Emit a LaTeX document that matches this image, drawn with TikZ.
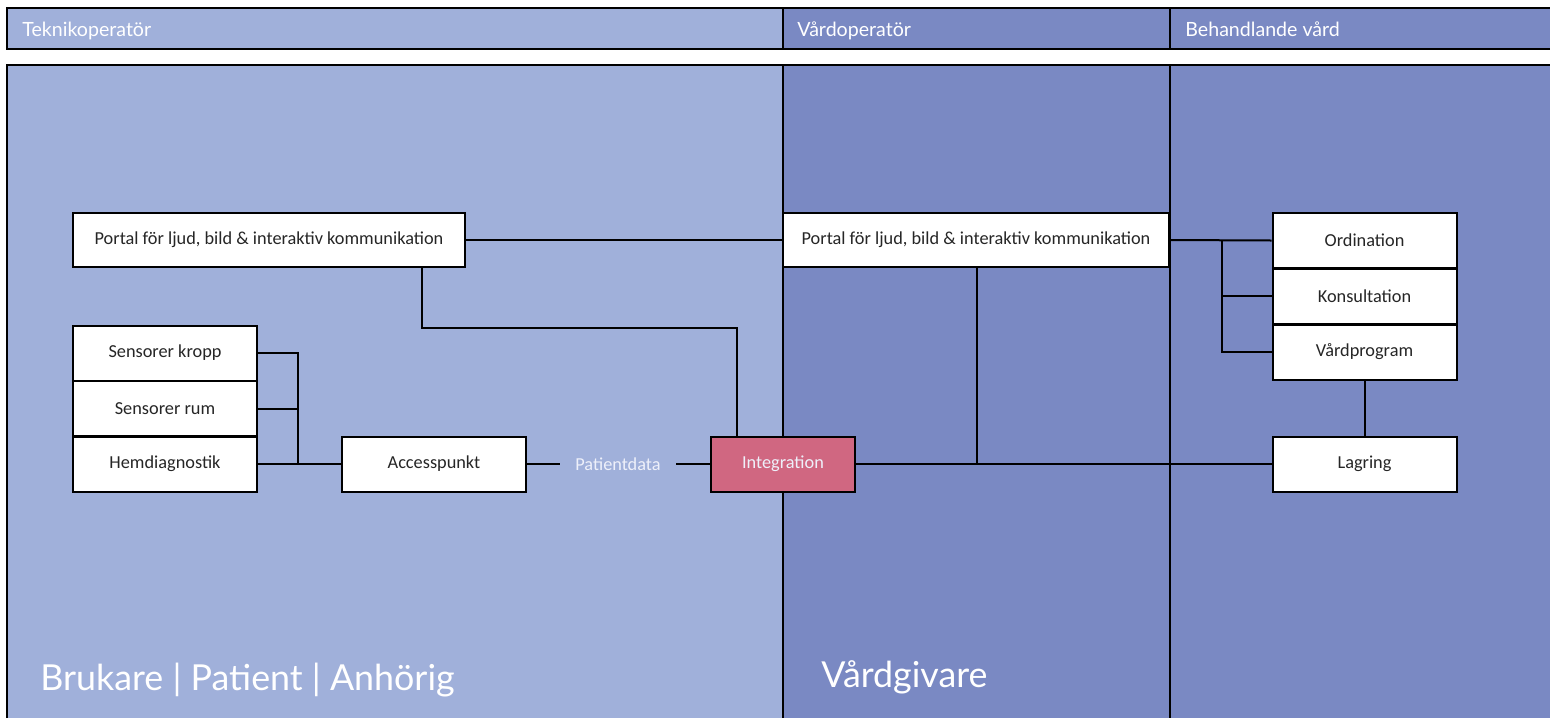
\documentclass[tikz,border=0pt]{standalone}
\usepackage{fontspec}
\setmainfont{Carlito}
\newfontfamily\latofont{Lato}
\usetikzlibrary{calc}

\definecolor{lightLane}{HTML}{A0B0DA}
\definecolor{darkLane}{HTML}{7A89C3}
\definecolor{integrationRed}{HTML}{D06781}
\definecolor{paleText}{HTML}{EEF0FA}

\begin{document}
\begin{tikzpicture}[x=0.5pt, y=-0.5pt,
            boxNode/.style={draw, fill=white, line width=1pt, inner sep=0pt,
                minimum width=92pt, minimum height=27.5pt, text=black!85,
                font=\fontsize{9.15}{11}\selectfont},
            headText/.style={anchor=base west, inner sep=0pt, text=white, font=\latofont\fontsize{9.8}{12}\selectfont},
            bigText/.style={anchor=base west, inner sep=0pt, text=white, font=\latofont\fontsize{17.9}{21}\selectfont},
            laneLine/.style={line width=1.2pt}]

            \useasboundingbox (0,0) rectangle (1550,718);

            % lanes
            \fill[lightLane] (7,8) rectangle (783,49);
            \fill[darkLane] (783,8) rectangle (1550,49);
            \fill[lightLane] (7,65) rectangle (783,718);
            \fill[darkLane] (783,65) rectangle (1550,718);
            \draw[laneLine] (1550,8) -- (7,8) -- (7,49) -- (1550,49);
            \draw[laneLine] (783,8) -- (783,49);
            \draw[laneLine] (1170,8) -- (1170,49);
            \draw[laneLine] (7,718) -- (7,65) -- (1550,65);
            \draw[laneLine] (783,65) -- (783,718);
            \draw[laneLine] (1170,65) -- (1170,718);

            \node[headText] (teknikHead) at (22,36) {Teknikoperatör};
            \node[headText] (vardHead) at (797,36) {Vårdoperatör};
            \node[headText] (behandlandeHead) at (1185,36) {Behandlande vård};
            \node[bigText] (brukareText) at (40,690) {Brukare | Patient | Anhörig};
            \node[bigText] (vardgivareText) at (821,687) {Vårdgivare};

            % boxes
            \node[boxNode, minimum width=196pt, minimum height=27pt] (portalL) at (269,240) {Portal för ljud, bild \& interaktiv kommunikation};
            \node[boxNode, minimum width=193pt, minimum height=27pt] (portalV) at (976,240) {Portal för ljud, bild \& interaktiv kommunikation};

            \node[boxNode] (sensorKropp) at (165,353) {Sensorer kropp};
            \node[boxNode] (sensorRum) at (165,408.5) {Sensorer rum};
            \node[boxNode] (hemdiagnostik) at (165,464) {Hemdiagnostik};
            \node[boxNode] (accesspunkt) at (434,464) {Accesspunkt};
            \node[text=paleText, inner xsep=7.5pt, font=\fontsize{9.15}{11}\selectfont] (patientdata) at (618,464) {Patientdata};
            \node[boxNode, fill=integrationRed, text=paleText, minimum width=72pt] (integration) at (783,464) {Integration};

            \node[boxNode] (ordination) at (1364.5,240.5) {Ordination};
            \node[boxNode] (konsultation) at (1364.5,296) {Konsultation};
            \node[boxNode] (vardprogram) at (1364.5,352) {Vårdprogram};
            \node[boxNode] (lagring) at (1364.5,464) {Lagring};

            % connectors
            \coordinate (bendA) at (422,328);
            \coordinate (sensBus) at (298,464);
            \coordinate (careBus) at (1222,352);

            \draw[line width=1pt] (portalL.east) -- (portalV.west);
            \draw[line width=1pt] ([xshift=76.5pt]portalL.south) |- (bendA) -| ([xshift=-23pt]integration.north);
            \draw[line width=1pt] (sensorKropp.east) -| (sensBus);
            \draw[line width=1pt] (sensorRum.east) -- (sensorRum.east -| sensBus);
            \draw[line width=1pt] (hemdiagnostik.east) -- (accesspunkt.west);
            \draw[line width=1pt] (accesspunkt.east) -- (patientdata.west);
            \draw[line width=1pt] (patientdata.east) -- (integration.west);
            \draw[line width=1pt] (integration.east) -- (lagring.west);
            \draw[line width=1pt] ([xshift=0.5pt]portalV.south) -- ([xshift=0.5pt]portalV.south |- integration.east);
            \draw[line width=1pt] (portalV.east) -- (ordination.west);
            \draw[line width=1pt] (careBus |- ordination.west) -- (careBus) -- (vardprogram.west);
            \draw[line width=1pt] (careBus |- konsultation.west) -- (konsultation.west);
            \draw[line width=1pt] (vardprogram.south) -- (lagring.north);
        \end{tikzpicture}
\end{document}
